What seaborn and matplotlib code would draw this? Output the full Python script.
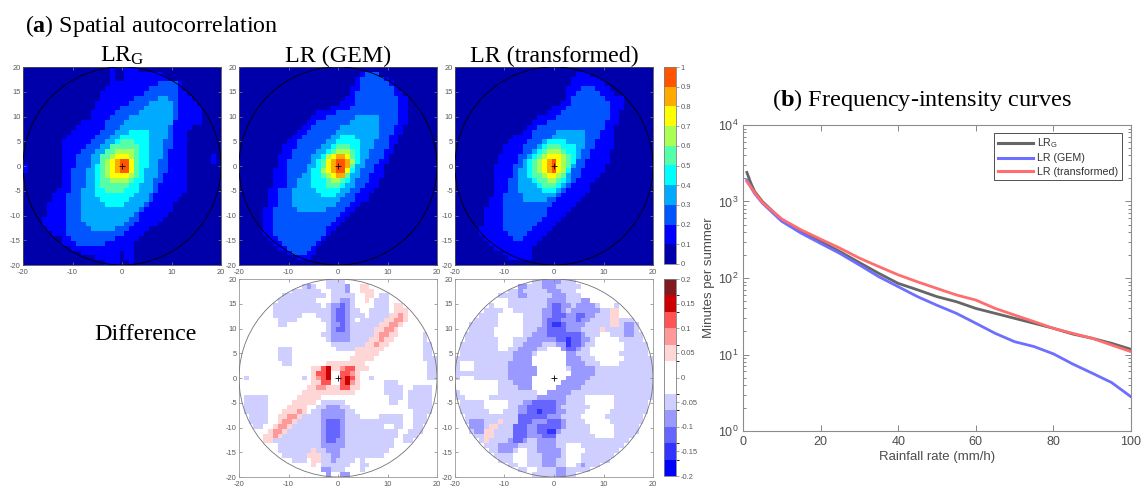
import numpy as np
import pandas as pd
import matplotlib
matplotlib.use("Agg")
import matplotlib.pyplot as plt
from matplotlib.colors import ListedColormap, BoundaryNorm
from matplotlib.patches import Circle
import seaborn as sns

plt.rcParams['font.family'] = ['Liberation Sans', 'DejaVu Sans']
plt.rcParams['mathtext.fontset'] = 'custom'
plt.rcParams['mathtext.rm'] = 'Liberation Serif'
plt.rcParams['mathtext.bf'] = 'Liberation Serif:bold'
plt.rcParams['mathtext.it'] = 'Liberation Serif:italic'
SERIF = ['Liberation Serif', 'DejaVu Serif']

# ---------------- panel (a): lag grids, x = -20..20 (left->right), y = 20..-20 (top->bottom)
GRID_X = list(range(-20, 21))
GRID_Y = list(range(20, -21, -1))

# autocorrelation class codes: '0' = 0-0.1, '1' = 0.1-0.2, ... '9' = 0.9-1
LRG_ROWS = [
    "00000 00000 00000 00010 01110 00000 00000 00000 0",
    "00000 00000 00000 00010 01111 11110 00000 00000 0",
    "00000 00000 00000 00010 01111 11111 00000 00000 0",
    "00000 00000 00000 00011 11111 11122 22100 00000 0",
    "00000 00000 00000 00111 11111 12222 22100 00000 0",
    "00000 00000 00000 01111 11111 22222 22110 00000 0",
    "00000 00000 00000 01111 11122 22233 22111 00000 0",
    "00000 00000 00000 11111 11222 23333 32111 10000 0",
    "00000 00000 00000 11111 22222 33333 32111 11000 0",
    "00000 00000 00001 11112 22223 33333 32111 11000 0",
    "00000 00000 00001 11122 22333 33333 32111 11000 0",
    "00000 00000 00111 11222 23333 33333 31111 11000 0",
    "00000 00000 01111 11222 33333 33333 21111 00000 0",
    "00000 00000 11111 12223 33444 43333 21110 00000 0",
    "00000 00001 11111 22233 44444 43333 21110 00000 0",
    "00000 00011 11112 22334 55544 43332 21110 00000 0",
    "00000 00011 11122 23355 55554 43332 21110 00000 0",
    "00000 00011 11222 33556 66654 43332 11110 00000 0",
    "00000 00011 12223 35567 77654 43332 11110 00001 0",
    "00000 00011 12223 35678 99754 43322 11110 00001 0",
    "10000 00011 12223 45678 99754 43322 11110 00000 0",
    "10000 00011 22233 45678 99754 33322 11110 00000 0",
    "00000 00011 22233 45677 77654 33321 11110 00000 0",
    "00000 00011 22233 45566 66544 33221 11110 00000 0",
    "00000 00011 22233 45555 55443 33211 11110 00000 0",
    "00000 00111 22333 44555 54443 33211 11110 00000 0",
    "00000 01112 22333 44444 44433 32111 11100 00000 0",
    "00000 01112 22333 34444 44333 32111 11000 00000 0",
    "00000 11112 22333 33444 43333 21111 10000 00000 0",
    "00000 11112 22333 33333 33332 11111 10000 00000 0",
    "00000 11112 22333 33333 33321 11111 00000 00000 0",
    "00001 11112 22333 33333 33221 11110 00000 00000 0",
    "00001 11112 22233 33333 32211 11100 00000 00000 0",
    "00000 11112 22223 33332 22111 10000 00000 00000 0",
    "00000 01112 22222 22222 21111 00000 00000 00000 0",
    "00000 00011 22222 22221 11110 00000 00000 00000 0",
    "00000 00011 12222 22111 11100 00000 00000 00000 0",
    "00000 00000 11111 11111 11100 00000 00000 00000 0",
    "00000 00000 00111 11111 01100 00000 00000 00000 0",
    "00000 00000 00000 11111 01100 00000 00000 00000 0",
    "00000 00000 00000 00111 00100 00000 00000 00000 0",
]

GEM_ROWS = [
    "00000 00000 00000 00000 00000 00000 00000 00000 0",
    "00000 00000 00000 00000 00000 12220 00000 00000 0",
    "00000 00000 00000 00000 00001 22222 10000 00000 0",
    "00000 00000 00000 00000 00001 22222 21000 00000 0",
    "00000 00000 00000 00000 00011 22222 22100 00000 0",
    "00000 00000 00000 00000 00012 22222 22110 00000 0",
    "00000 00000 00000 00000 00112 22222 22211 00000 0",
    "00000 00000 00000 00000 01112 22222 22211 00000 0",
    "00000 00000 00000 00001 11122 22222 22211 00000 0",
    "00000 00000 00000 01111 22222 22222 22211 00000 0",
    "00000 00000 00000 11122 22223 33332 22211 00000 0",
    "00000 00000 00001 12222 22233 33332 22211 00000 0",
    "00000 00000 00011 22222 23333 33332 22110 00000 0",
    "00000 00000 00112 22222 33333 33332 22110 00000 0",
    "00000 00000 01122 22223 34443 33332 21100 00000 0",
    "00000 00000 11222 22233 44444 33322 21100 00000 0",
    "00000 00001 11222 22334 55544 33322 21000 00000 0",
    "00000 00001 12222 23345 66654 33222 11000 00000 0",
    "00000 00011 12222 33467 88754 33222 10000 00000 0",
    "00000 00011 22222 34578 99864 32221 10000 00000 0",
    "00000 00011 22223 34578 99853 32211 00000 00000 0",
    "00000 00111 22223 44678 99743 22211 00000 00000 0",
    "00000 00111 22233 44567 88533 22111 00000 00000 0",
    "00000 00111 22333 44456 65432 22110 00000 00000 0",
    "00000 00111 22333 44455 54332 21110 00000 00000 0",
    "00000 01122 23333 34444 43322 11100 00000 00000 0",
    "00000 01122 23333 33444 33221 11000 00000 00000 0",
    "00000 01122 23333 33333 32221 11000 00000 00000 0",
    "00000 01122 23333 33333 22211 00000 00000 00000 0",
    "00000 11222 22333 33322 22110 00000 00000 00000 0",
    "00000 11222 22222 22222 21100 00000 00000 00000 0",
    "00000 11222 22222 22222 11000 00000 00000 00000 0",
    "00000 11222 22222 22221 10000 00000 00000 00000 0",
    "00000 11222 22222 22211 00000 00000 00000 00000 0",
    "00000 11222 22222 22210 00000 00000 00000 00000 0",
    "00000 01122 22222 22100 00000 00000 00000 00000 0",
    "00000 00112 22222 21000 00000 00000 00000 00000 0",
    "00000 00011 22222 10000 00000 00000 00000 00000 0",
    "00000 00000 12221 10000 00000 00000 00000 00000 0",
    "00000 00000 00111 00000 00000 00000 00000 00000 0",
    "00000 00000 00000 00000 00000 00000 00000 00000 0",
]

TRANS_ROWS = [
    "00000 00000 00000 00000 00000 00000 00000 00000 0",
    "00000 00000 00000 00000 00000 11100 00000 00000 0",
    "00000 00000 00000 00000 00001 11111 00000 00000 0",
    "00000 00000 00000 00000 00001 11111 10000 00000 0",
    "00000 00000 00000 00000 00011 12221 11000 00000 0",
    "00000 00000 00000 00000 00011 22222 11100 00000 0",
    "00000 00000 00000 00000 00012 22222 21111 00000 0",
    "00000 00000 00000 00000 00112 22222 22111 00000 0",
    "00000 00000 00000 00000 11122 22222 22111 00000 0",
    "00000 00000 00000 00001 11222 22222 22110 00000 0",
    "00000 00000 00000 00111 12222 22222 22110 00000 0",
    "00000 00000 00000 01112 22222 22222 21110 00000 0",
    "00000 00000 00000 11222 22222 22222 21100 00000 0",
    "00000 00000 00001 12222 23333 33222 11100 00000 0",
    "00000 00000 00111 12222 33333 33222 11100 00000 0",
    "00000 00000 01111 22234 44433 33221 11100 00000 0",
    "00000 00000 11112 22345 55444 33221 11100 00000 0",
    "00000 00000 11112 23456 66544 32211 11000 00000 0",
    "00000 00001 11122 34567 77654 32211 11000 00000 0",
    "00000 00001 11123 45678 97654 22111 11000 00000 0",
    "00000 00011 11223 45678 97653 22111 10000 00000 0",
    "00000 00011 11233 45678 97642 21111 10000 00000 0",
    "00000 00011 11233 45567 76532 21111 00000 00000 0",
    "00000 00011 12233 34556 65432 11110 00000 00000 0",
    "00000 00011 12233 33455 54321 11100 00000 00000 0",
    "00000 00011 12233 33344 43211 11100 00000 00000 0",
    "00000 00011 22223 33333 32111 11000 00000 00000 0",
    "00000 00111 22223 33332 21111 10000 00000 00000 0",
    "00000 00111 22222 22222 11111 00000 00000 00000 0",
    "00000 01111 22222 22221 11110 00000 00000 00000 0",
    "00000 01111 22222 22221 11100 00000 00000 00000 0",
    "00000 01111 22222 22211 11000 00000 00000 00000 0",
    "00000 01111 22222 22111 10000 00000 00000 00000 0",
    "00000 11111 22222 21111 00000 00000 00000 00000 0",
    "00000 11111 12222 11110 00000 00000 00000 00000 0",
    "00000 01111 11221 11100 00000 00000 00000 00000 0",
    "00000 00111 11111 11000 00000 00000 00000 00000 0",
    "00000 00011 11111 10000 00000 00000 00000 00000 0",
    "00000 00000 11111 10000 00000 00000 00000 00000 0",
    "00000 00000 01111 10000 00000 00000 00000 00000 0",
    "00000 00000 00000 00000 00000 00000 00000 00000 0",
]

# difference class codes: '.' ~0, a..e negative (-0.05 .. -0.18), A..E positive
DIFF_GEM_ROWS = [
    "..... ..... ..... ...aa aa... ..... ..... ..... .",
    "..... ..... ...ab a..aa aab.. AA... ..... ..... .",
    "..... ...aa aaaaa aa..a aab.. AAA.. ..... ..... .",
    "..... ...aa aaaaa aaa.a aaaa. .AA.a a.... ..... .",
    "..... ..aaa aaaaa a...a abba. .A.aa a.... ..... .",
    "..... ..aaa aaaaa aa.ab bcba. ...aa a.AA. ..... .",
    "..... ..aaa aaaaa aaaab ccbaa ..aaa a.AAA ..... .",
    "..... ..aaa aaa.. .aaab ccbaa a.aaa aAABA ..... .",
    "..... ...aa aa... ..aab ccba. aaaaa AABBA ..... .",
    "..... ...aa ..... ...ab bcbaa aaaaA ABBA. ..... .",
    "..... ..... ..... ...ab ccbaa aaaAA BBA.. ...aa .",
    "..... ..... ..... ..aab bbbaa aaaAB BAA.. ...aa .",
    "..... ..... ..... ...ab bbbaa aaAAB AA... ...aa .",
    "..... ..... ..... ....a aaaaa aAABA A.... ...aa .",
    "..... ...aa a.... ..... aaaaA AAAAA ..... ...aa .",
    "..... ...aa a.... ..... ....A AAAA. ..... ...aa .",
    "..... ...aa a.... ..... ...AA AAA.. ..... ...aa a",
    "..... ....a a.... ...AA AAAAA A.... ..... ....a a",
    "..... ..... ..... AACDA ABCCA AA... ..... ....a a",
    "..... ..... ..... ACCD. .CCBA ..... ..... ....a a",
    ".a... ..... ...a. ABCD. .CDCA ..a.. ..... ....a a",
    "..... ..... ..... AACC. .CDBA ..... aaa.. ..... .",
    "..... ..... ....A ABBAA ACCAA ..... aaaa. .aaaa .",
    "..... ..... ...AA AAAAA AAAA. ..... aaaa. aaaaa .",
    ".aaaa a.... ..AAA AA... ..... ..... .aaa. aaaaa .",
    ".aaaa a.... .AAAA A.aaa aa... ..... .aa.. aaaaa .",
    ".aaaa a.... AAAA. .aabb baa.. ..... ..... aaaaa .",
    ".aaaa a...A AABA. aabbb bbaa. ..... ..... .aaaa .",
    ".aaaa a..AA BBAaa aabbb bbaaa ....a aaaa. .aaaa .",
    ".aaaa a..AB BAaaa aabcc cbaaa aaaaa aaaa. .aaaa .",
    "..aaa ..ABB Aaaaa aabcc cbaaa aaaaa ..aa. .aaaa .",
    "..... .ABBA aaaaa aabcc cbaaa aaaaa aaa.. aaaa. .",
    "..... AABAa aaaaa aabcc cbaaa aaaaa aaa.a aaa.. .",
    "....A AAaaa aaaaa aabcc bbaaa aaaaa aa..a aa... .",
    "....A A..aa aaaaa aabbb bbaaa aaaaa aa... ..... .",
    "..... ...aa aaaaa Aaabb baaaa aaaaa a.... ..... .",
    "..... ....a aaaaA AAaab baaaa aaaaa ..... ..... .",
    "..... ..... .aaa. AAaab aaaa. a.... ..... ..... .",
    "..... ..... ..... A.aaa aaa.. aa... ..... ..... .",
    "..... ..... ..... ..bba aa... a.... ..... ..... .",
    "..... ..... ..... ...b. .bb.. ..... ..... ..... .",
]

DIFF_TRANS_ROWS = [
    "aaaaa aaaaa aaaaa aaabb bbaaa aaaaa aaaaa aaaaa a",
    "aaaaa aaaaa aaabb aaabb baaaa a..aa aaaaa aaaaa a",
    "aaaaa aaaaa aaaba aaaab bbaaa ..... aaaaa aaaaa a",
    "aaaaa aaaaa aaabb aaaaa bbbaa a.... ..aaa aaaaa a",
    "aaaaa aaa.. .aaaa aaaab bbbaa abb.. ...aa aaaaa a",
    "aaaaa aaa.. .aaaa aaaab ccbba bbbba ...aa aaaaa a",
    "aaaaa aaaaa ..aaa aaabb ccbab bbbbb aaAA. aaaaa a",
    "aaaaa aaaa. ....a aaabb cccbb ccbba aaAA. .aaaa a",
    "aaaaa aaaa. ....a aaabc ccbbb cbbaa aaAAa aaaaa a",
    "aaaaa aaaa. ....a aaabc ddcbb bbaaa aaAAa bbaaa a",
    "aaaaa aaa.. ....a aabbc cccbb baaaa Aaaaa bbaaa a",
    "aaaaa aaa.. ....a abbbc ccccc cbaaa ..aaa bbaaa a",
    "aaaaa aaaa. ..aaa bbbbb bccdc cbba. ....a aaaaa a",
    "aaaaa aaaa. ..aab bbbaa abbdc cbaa. ..... aaaaa a",
    "aaaaa aaaa. .aabb bbaa. ..bcc baa.. ..... aaaaa a",
    "aaaaa aaaaa aabbb ba... ...bb aaa.. ....a aaaaa a",
    "aaaaa aaaaa aabbb b.... ...bb baaa. ..... aaaaa a",
    "a...a aaaaa abbbb b.... ...bb bbaaa ....a aaaaa a",
    "a...a aaaaa abbbb bb... ...ab bbbba aaaaa aaaaa a",
    "aaaaa aaaaa abbbb bb... ....b bbbba aaaaa aaaaa a",
    "a...a aaaaa abbbb b.... ...bb bbbaa aaaaa aaaaa a",
    "..... ....a aabbb b.... ..bbb bbaaa aaaaa aaaaa a",
    "..... ....a aaabb b.... .bbbb baaaa aaaaa aaaaa a",
    "a.... ....a aaaaa aa..b bbbba aaaaa aaaaa aaaaa a",
    "aa... ..aaa aaaaa aabbb bbbaa aa... ...aa aaaaa a",
    "aaaaa a.... .aaab bcccc cbbaa aa... ...aa aaaaa a",
    "aaaaa a.... .aabb ccccc cbaaa aaa.. ...aa aaaaa a",
    "aaaaa aa... aaabb ccdcc cbbaa aa... ..aaa aaaaa a",
    "aaaaa aaaaa aaacc ccccb bbaaa a.... .aaaa aaaaa a",
    "aaabb baaaA aaacc cbbbc ccbaa aa... ..aaa aaaaa a",
    "aaabb baAAa aaccc bbccc ccbaa aaa.. ...aa aaaaa a",
    "aaaab bAAaa aaccc bbccd dbaaa aaa.. ...aa aaaaa a",
    "aaaaa aAAaa aaccc bbbcc caaaa aaaa. ...aa aaaaa a",
    "aaaaa aAaaa abccb aabbb baaaa aaaaa aaaaa aaaaa a",
    "aaaaa aaaab bbbaa aabbb baa.. .aaaa aaaaa aaaaa a",
    "aaaaa aaaab bba.. aabbb bba.. ..aaa aaaaa aaaaa a",
    "aaaaa aaaaa aa... aaabb bba.. .aaaa aaaaa aaaaa a",
    "aaaaa aaaaa aa... aaabb baa.. .aaaa aaaaa aaaaa a",
    "aaaaa aaaaa aaa.. aaabb baa.. abaaa aaaaa aaaaa a",
    "aaaaa aaaaa aaaaa ..aaa abbaa aaaaa aaaaa aaaaa a",
    "aaaaa aaaaa aaaaa aaaaa abbaa aaaaa aaaaa aaaaa a",
]

AC_CODE = {'0': 0.05, '1': 0.15, '2': 0.25, '3': 0.35, '4': 0.45,
           '5': 0.55, '6': 0.65, '7': 0.75, '8': 0.85, '9': 0.95}
DIFF_CODE = {'e': -0.185, 'd': -0.15, 'c': -0.117, 'b': -0.083, 'a': -0.05,
             '.': 0.0, 'A': 0.05, 'B': 0.083, 'C': 0.117, 'D': 0.15, 'E': 0.185}

AC_BOUNDS = [0, 0.1, 0.2, 0.3, 0.4, 0.5, 0.6, 0.7, 0.8, 0.9, 1.0]
AC_COLORS = [(0, 0, 0.667), (0, 0, 1), (0, 0.333, 1), (0, 0.667, 1), (0, 1, 1),
             (0.333, 1, 0.667), (0.667, 1, 0.333), (1, 1, 0), (1, 0.667, 0), (1, 0.333, 0)]
AC_TICK_LABELS = ['0', '0.1', '0.2', '0.3', '0.4', '0.5', '0.6', '0.7', '0.8', '0.9', '1']

DIFF_BOUNDS = [-0.2, -0.1667, -0.1333, -0.1, -0.0667, -0.0333, 0.0,
               0.0333, 0.0667, 0.1, 0.1333, 0.1667, 0.2]
DIFF_COLORS = [(0, 0, 1), (0.2, 0.2, 1), (0.4, 0.4, 1), (0.6, 0.6, 1), (0.81, 0.81, 1),
               (1, 1, 1), (1, 1, 1),
               (1, 0.84, 0.84), (1, 0.6, 0.6), (1, 0.33, 0.33), (0.8, 0, 0), (0.5, 0.1, 0.12)]
DIFF_TICKS = [0.2, 0.15, 0.1, 0.05, 0.0, -0.05, -0.1, -0.15, -0.2]
DIFF_TICK_LABELS = ['0.2', '0.15', '0.1', '0.05', '0', '-0.05', '-0.1', '-0.15', '-0.2']

X_TICKS = [-20, -10, 0, 10, 20]
Y_TICKS = [20, 15, 10, 5, 0, -5, -10, -15, -20]

# ---------------- panel (b): frequency-intensity curves
RATE = [1, 2, 3, 5, 10, 15, 20, 25, 30, 35, 40, 45, 50, 55, 60, 65, 70, 75, 80, 85, 90, 95, 100]
MIN_LRG = [2400, 1750, 1350, 1000, 575, 405, 300, 221, 159, 115, 85, 70, 57, 49, 40,
           34.5, 29.7, 25.6, 22, 18.5, 16.3, 14, 11.7]
MIN_GEM = [1900, 1550, 1270, 950, 550, 385, 283, 209, 148, 104, 77, 57, 44, 34.5, 25.6,
           18.9, 14.7, 12.7, 10.2, 7.5, 5.7, 4.3, 2.8]
MIN_TRANS = [1820, 1550, 1300, 970, 590, 425, 322, 245, 182, 141, 110, 89, 73, 60, 51.5,
             40, 32.8, 26.9, 22, 18.9, 16.3, 13.3, 10.9]
SERIES = ['LR$_\\mathregular{G}$', 'LR (GEM)', 'LR (transformed)']
SERIES_COLORS = ['#666666', '#6e6eff', '#ff6e6e']


def decode(rows, code, fill):
    out = []
    for r in rows:
        s = r.replace(' ', '')
        s = (s + fill * len(GRID_X))[:len(GRID_X)]
        out.append([code[c] for c in s])
    return pd.DataFrame(out, index=GRID_Y, columns=GRID_X, dtype=float)


def clip_circle(df, radius):
    xx, yy = np.meshgrid(df.columns.values.astype(float), df.index.values.astype(float))
    return df.where(xx ** 2 + yy ** 2 <= radius ** 2)


n = len(GRID_X)
span = GRID_X[-1] - GRID_X[0]


def xpos(v):
    return (v - GRID_X[0]) * n / span


def ypos(v):
    return (GRID_Y[0] - v) * n / span


ac_cmap = ListedColormap(AC_COLORS)
ac_norm = BoundaryNorm(AC_BOUNDS, ac_cmap.N)
diff_cmap = ListedColormap(DIFF_COLORS)
diff_norm = BoundaryNorm(DIFF_BOUNDS, diff_cmap.N)

W, H = 1141, 486
fig = plt.figure(figsize=(W / 100, H / 100), dpi=100)


def fax(x0, y0, x1, y1):
    return fig.add_axes([x0 / W, 1 - y1 / H, (x1 - x0) / W, (y1 - y0) / H])


def draw_map(ax, df, cmap, norm, circ_color, spine_color, cax=None, ticks=None, labels=None):
    sns.heatmap(df, ax=ax, cmap=cmap, norm=norm, cbar=cax is not None, cbar_ax=cax,
                cbar_kws={'ticks': ticks} if cax is not None else None,
                xticklabels=False, yticklabels=False, square=False)
    ax.set_xticks([xpos(v) for v in X_TICKS])
    ax.set_xticklabels([str(v) for v in X_TICKS])
    ax.set_yticks([ypos(v) for v in Y_TICKS])
    ax.set_yticklabels([str(v) for v in Y_TICKS])
    ax.tick_params(direction='in', length=2.5, width=0.5, color='0.5', labelsize=5.4,
                   labelcolor='0.35', top=True, right=True)
    ax.tick_params(axis='x', pad=2.6)
    ax.tick_params(axis='y', pad=1.5)
    for s in ax.spines.values():
        s.set_visible(True)
        s.set_color(spine_color)
        s.set_linewidth(0.6)
    ax.add_patch(Circle((xpos(0), ypos(0)), xpos(20) - xpos(0), fill=False,
                        ec=circ_color, lw=0.6, zorder=3))
    ax.plot([xpos(0)], [ypos(0)], marker='+', color='k', ms=5, mew=0.6, zorder=4)
    if cax is not None:
        cb = ax.collections[0].colorbar
        cb.outline.set_linewidth(0.6)
        cb.outline.set_edgecolor('0.5')
        cb.set_ticks(ticks)
        cb.set_ticklabels(labels)
        cax.tick_params(labelsize=5.4, labelcolor='0.35', length=2, width=0.5, color='0.5', pad=1.5)


# top row
ax_a1 = fax(23, 67, 221, 265)
ax_a2 = fax(239, 67, 437, 265)
ax_a3 = fax(455, 67, 653, 265)
cax_top = fax(664, 67, 676, 264)
draw_map(ax_a1, decode(LRG_ROWS, AC_CODE, '0'), ac_cmap, ac_norm, 'k', '0.3')
draw_map(ax_a2, decode(GEM_ROWS, AC_CODE, '0'), ac_cmap, ac_norm, 'k', '0.3')
draw_map(ax_a3, decode(TRANS_ROWS, AC_CODE, '0'), ac_cmap, ac_norm, 'k', '0.3',
         cax=cax_top, ticks=AC_BOUNDS, labels=AC_TICK_LABELS)

# bottom row (differences)
ax_d2 = fax(239, 279, 437, 477)
ax_d3 = fax(455, 279, 653, 477)
cax_bot = fax(664, 279, 676, 476)
draw_map(ax_d2, clip_circle(decode(DIFF_GEM_ROWS, DIFF_CODE, '.'), 20.5),
         diff_cmap, diff_norm, '0.45', '0.6')
draw_map(ax_d3, clip_circle(decode(DIFF_TRANS_ROWS, DIFF_CODE, 'a'), 20.5),
         diff_cmap, diff_norm, '0.45', '0.6', cax=cax_bot, ticks=DIFF_TICKS, labels=DIFF_TICK_LABELS)

# titles of panel (a)
fig.text(25 / W, 1 - 32 / H, r"($\mathbf{a}$) Spatial autocorrelation", family=SERIF,
         fontsize=17.3, ha='left', va='baseline')
for ax, title in zip([ax_a1, ax_a2, ax_a3], ['LR$_\\mathregular{G}$', 'LR (GEM)', 'LR (transformed)']):
    bb = ax.get_position()
    fig.text(bb.x0 + bb.width / 2, 1 - 62 / H, title, family=SERIF, fontsize=17.3,
             ha='center', va='baseline')
fig.text(145 / W, 1 - 340 / H, 'Difference', family=SERIF, fontsize=17.3,
         ha='center', va='baseline')

# panel (b)
ax_b = fax(743, 125, 1131, 431)
curves = pd.DataFrame({
    'rate': RATE * 3,
    'minutes': MIN_LRG + MIN_GEM + MIN_TRANS,
    'series': [SERIES[0]] * len(RATE) + [SERIES[1]] * len(RATE) + [SERIES[2]] * len(RATE),
})
sns.lineplot(data=curves, x='rate', y='minutes', hue='series', hue_order=SERIES,
             palette=dict(zip(SERIES, SERIES_COLORS)), linewidth=2.0, ax=ax_b)
ax_b.set_yscale('log')
ax_b.set_xlim(0, 100)
ax_b.set_ylim(1, 1e4)
ax_b.set_xticks([0, 20, 40, 60, 80, 100])
ax_b.tick_params(which='both', direction='in', top=True, right=True, color='0.45',
                 labelcolor='0.3', labelsize=9, width=0.6)
ax_b.tick_params(which='major', length=4)
ax_b.tick_params(which='minor', length=2)
for s in ax_b.spines.values():
    s.set_color('0.55')
    s.set_linewidth(0.8)
ax_b.set_xlabel('Rainfall rate (mm/h)', fontsize=9.5, color='0.3', labelpad=2)
ax_b.set_ylabel('Minutes per summer', fontsize=9.5, color='0.3', labelpad=2)
handles, labels = ax_b.get_legend_handles_labels()
leg = ax_b.legend(handles, labels, loc='upper right', bbox_to_anchor=(0.977, 0.974),
                  borderaxespad=0, frameon=True, fancybox=False, edgecolor='k',
                  fontsize=7.7, handlelength=3.3, borderpad=0.35, labelspacing=0.3,
                  handletextpad=0.4)
leg.get_frame().set_linewidth(0.6)
for h in leg.legend_handles:
    h.set_linewidth(2.2)
for t in leg.get_texts():
    t.set_color('0.2')
fig.text(922 / W, 1 - 106 / H, r"($\mathbf{b}$) Frequency-intensity curves", family=SERIF,
         fontsize=17.5, ha='center', va='baseline')

fig.savefig('out.png', dpi=100)
